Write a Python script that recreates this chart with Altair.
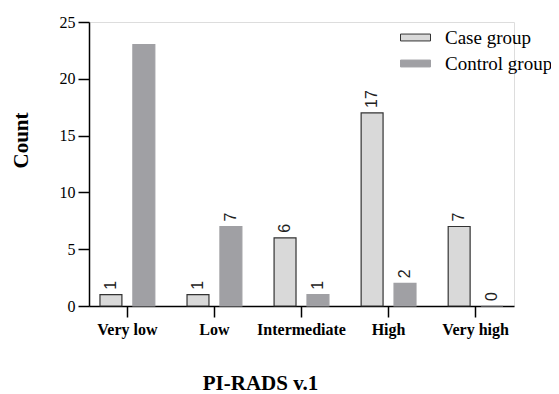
import altair as alt
import pandas as pd

categories = ["Very low", "Low", "Intermediate", "High", "Very high"]
groups = ["Case group", "Control group"]
case_values = [1, 1, 6, 17, 7]
control_values = [23, 7, 1, 2, 0]
# value labels printed above bars in the reference (the 23 is not printed)
case_labels = [True, True, True, True, True]
control_labels = [False, True, True, True, True]
y_ticks = [0, 5, 10, 15, 20, 25]

rows = []
for c, v, s in zip(categories, case_values, case_labels):
    rows.append({"cat": c, "group": groups[0], "value": v, "show": s})
for c, v, s in zip(categories, control_values, control_labels):
    rows.append({"cat": c, "group": groups[1], "value": v, "show": s})
df = pd.DataFrame(rows)

SERIF = "Liberation Serif"

x_enc = alt.X(
    "cat:N",
    sort=categories,
    scale=alt.Scale(paddingInner=0.37, paddingOuter=0.126),
    axis=alt.Axis(
        title="PI-RADS v.1",
        titleFont=SERIF,
        titleFontSize=21,
        titleFontWeight="bold",
        titleColor="black",
        titleX=171,
        titleY=83,
        titleAnchor="start",
        titleAlign="center",
        titleBaseline="alphabetic",
        labelFont=SERIF,
        labelFontSize=16,
        labelFontWeight="bold",
        labelColor="black",
        labelAngle=0,
        labelPadding=4,
        tickSize=11,
        tickColor="black",
        tickWidth=1.5,
        domainColor="black",
        domainWidth=1.5,
    ),
)
xoff = alt.XOffset("group:N", sort=groups, scale=alt.Scale(paddingInner=1 / 3, paddingOuter=0))
y_enc = alt.Y(
    "value:Q",
    scale=alt.Scale(domain=[0, 25], nice=False),
    axis=alt.Axis(
        title="Count",
        values=y_ticks,
        grid=False,
        titleFont=SERIF,
        titleFontSize=21,
        titleFontWeight="bold",
        titleColor="black",
        titleAngle=270,
        titleX=-68,
        titleY=118,
        titleAlign="center",
        titleBaseline="middle",
        labelFont=SERIF,
        labelFontSize=16,
        labelColor="black",
        labelPadding=3,
        tickSize=11,
        tickColor="black",
        tickWidth=1.5,
        domainColor="black",
        domainWidth=1.5,
    ),
)

bars = alt.Chart(df).mark_bar(strokeWidth=1.2).encode(
    x=x_enc,
    xOffset=xoff,
    y=y_enc,
    fill=alt.Fill(
        "group:N",
        sort=groups,
        scale=alt.Scale(domain=groups, range=["#d9d9d9", "#a0a0a4"]),
        legend=alt.Legend(
            title=None,
            orient="none",
            legendX=311,
            legendY=0,
            symbolType="M-1,-0.23H1V0.23H-1Z",
            symbolSize=900,
            symbolStrokeWidth=1,
            labelFont=SERIF,
            labelFontSize=19,
            labelColor="black",
            labelOffset=14,
            rowPadding=-6,
            labelLimit=300,
        ),
    ),
    stroke=alt.Stroke(
        "group:N",
        sort=groups,
        scale=alt.Scale(domain=groups, range=["#333333", "#a0a0a4"]),
        legend=None,
    ),
)

labels = alt.Chart(df).transform_filter(
    alt.datum.show
).mark_text(
    angle=270, align="left", baseline="middle", dx=5,
    font="Liberation Sans", fontSize=16, color="#222222",
).encode(
    x=alt.X("cat:N", sort=categories),
    xOffset=alt.XOffset("group:N", sort=groups),
    y=alt.Y("value:Q"),
    text=alt.Text("value:Q"),
)

chart = (
    alt.layer(bars, labels)
    .properties(
        width=425,
        height=284,
        autosize=alt.AutoSizeParams(type="none"),
        padding={"left": 81, "top": 14, "right": 37, "bottom": 88},
    )
    .configure_view(stroke=None)
    .configure(background="white")
)

chart.save("out.html", embed_options={"renderer": "svg", "actions": False})
